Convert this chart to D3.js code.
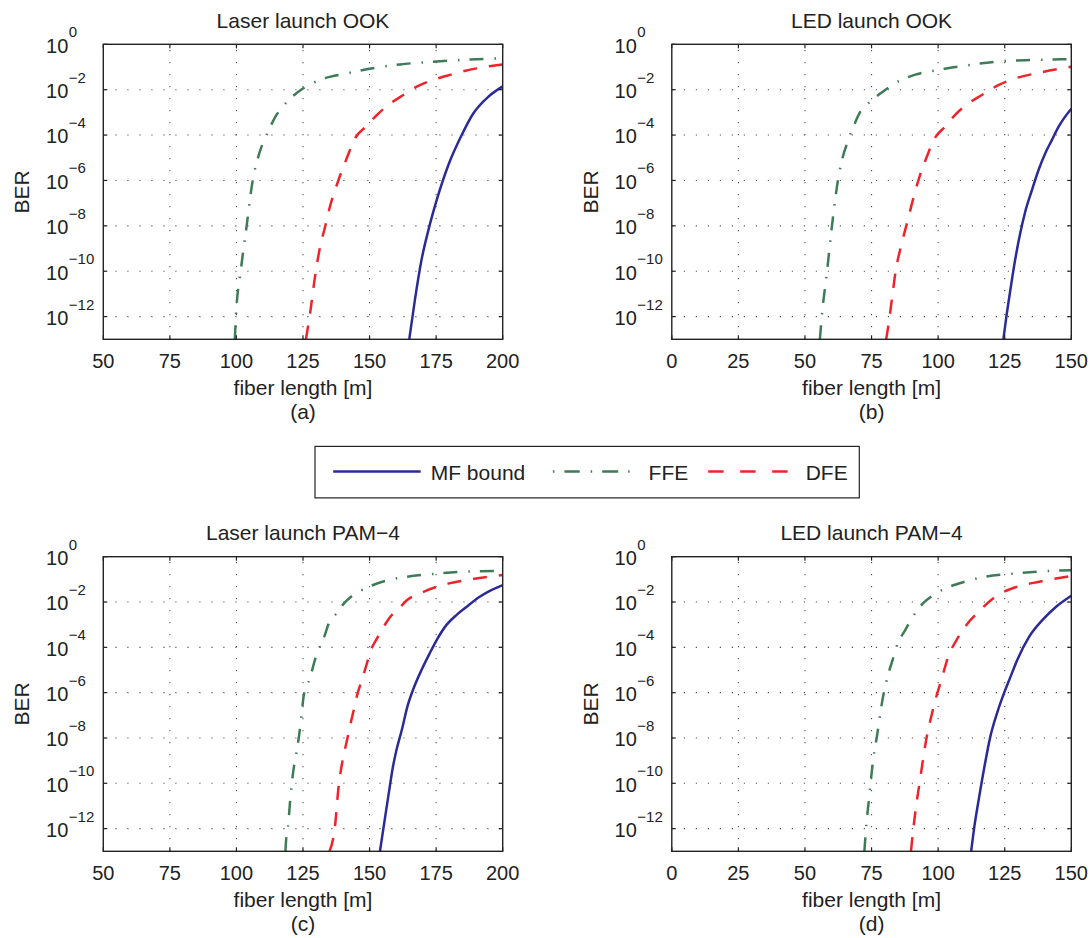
<!DOCTYPE html>
<html>
<head>
<meta charset="utf-8">
<script src="https://cdn.jsdelivr.net/npm/d3@7"></script>
<style>
  html, body { margin: 0; padding: 0; background: #fff; }
  svg { display: block; }
</style>
</head>
<body>
<svg id="chart" width="1090" height="938"></svg>
<script>
// ---------------- data ----------------
const xTicksLaser = [50, 75, 100, 125, 150, 175, 200];
const xTicksLED = [0, 25, 50, 75, 100, 125, 150];
const yTickValues = [1, 1e-2, 1e-4, 1e-6, 1e-8, 1e-10, 1e-12];
const yTickExponents = ["0", "\u22122", "\u22124", "\u22126", "\u22128", "\u221210", "\u221212"];
const panelTitles = ["Laser launch OOK", "LED launch OOK", "Laser launch PAM\u22124", "LED launch PAM\u22124"];
const panelLetters = ["(a)", "(b)", "(c)", "(d)"];
const seriesNames = ["MF bound", "FFE", "DFE"];

// (a) Laser launch OOK
const aMFLen = [164.9, 167.0, 169.5, 172.1, 175.2, 179.6, 184.6, 189.0, 194.6, 200];
const aMFBer = [1e-13, 5.2e-12, 3.1e-10, 6.5e-9, 1.35e-7, 4.8e-6, 1e-4, 9.1e-4, 4.9e-3, 1.4e-2];
const aFFELen = [99.4, 99.8, 101.6, 103.8, 106.1, 108.6, 111.3, 115.1, 120.1, 125.1, 131.4, 141.4, 148.9, 161.4, 173.9, 186.5, 200];
const aFFEBer = [1e-13, 1e-12, 1e-10, 9.3e-9, 9.8e-7, 1.6e-5, 1e-4, 7.9e-4, 3.9e-3, 1.15e-2, 2.7e-2, 5.2e-2, 7.9e-2, 0.13, 0.17, 0.21, 0.24];
const aDFELen = [126.1, 127.6, 129.5, 131.4, 133.3, 135.1, 138.3, 141.4, 144.5, 148.9, 152.7, 157.0, 162.7, 167.7, 173.9, 180.2, 190.2, 200];
const aDFEBer = [1e-13, 1.26e-12, 5.6e-11, 1.17e-9, 9.1e-9, 6.9e-8, 1.02e-6, 9.3e-6, 7.1e-5, 2.5e-4, 7.6e-4, 2.1e-3, 5.8e-3, 1.35e-2, 2.7e-2, 4.5e-2, 8.7e-2, 0.13];

// (b) LED launch OOK
const bMFLen = [124.5, 125.6, 127.1, 128.9, 130.8, 132.7, 135.2, 137.7, 140.2, 142.7, 145.2, 150];
const bMFBer = [1e-13, 9.5e-13, 1.45e-11, 3.1e-10, 4.6e-9, 4.2e-8, 3.7e-7, 2.9e-6, 1.55e-5, 6.0e-5, 2.3e-4, 1.45e-3];
const bFFELen = [55.6, 56.3, 58.2, 60.1, 62.0, 63.9, 65.8, 67.7, 70.8, 74.4, 78.4, 84.8, 91.1, 100.0, 110.1, 122.8, 135.4, 150];
const bFFEBer = [1e-13, 1e-12, 7.9e-11, 9.1e-9, 5.2e-7, 7.9e-6, 4.3e-5, 1.66e-4, 1.07e-3, 2.95e-3, 6.9e-3, 2.24e-2, 4.5e-2, 7.4e-2, 0.115, 0.174, 0.204, 0.224];
const bDFELen = [80.5, 81.6, 82.9, 84.1, 86.0, 88.6, 90.5, 93.0, 95.5, 98.7, 102.5, 106.3, 111.4, 116.4, 122.8, 129.1, 138.0, 150];
const bDFEBer = [1e-13, 6.9e-13, 1.02e-11, 1.1e-10, 1.17e-9, 1.78e-8, 1.35e-7, 1.45e-6, 9.3e-6, 7.1e-5, 2.3e-4, 7.6e-4, 2.5e-3, 5.8e-3, 1.62e-2, 3.2e-2, 5.6e-2, 0.102];

// (c) Laser launch PAM-4
const cMFLen = [153.9, 155.3, 157.2, 158.8, 160.1, 162.2, 164.1, 166.4, 169.5, 172.6, 175.2, 178.9, 182.7, 186.5, 191.5, 195.9, 200];
const cMFBer = [1e-13, 1.23e-12, 3.6e-11, 5.5e-10, 2.95e-9, 2.5e-8, 2.2e-7, 1.41e-6, 1e-5, 5.5e-5, 2.1e-4, 9.8e-4, 2.7e-3, 6.2e-3, 1.74e-2, 3.4e-2, 5.6e-2];
const cFFELen = [118.4, 118.7, 119.3, 120.3, 121.2, 122.5, 123.5, 124.4, 125.3, 126.9, 128.2, 129.4, 131.3, 133.2, 134.5, 137.6, 140.4, 143.9, 148.4, 152.8, 157.2, 161.4, 173.9, 186.5, 200];
const cFFEBer = [1e-13, 3.7e-13, 1.02e-12, 2.57e-11, 2.57e-10, 2.1e-9, 1.23e-8, 8.7e-8, 7.9e-7, 2.5e-6, 7.9e-6, 2.57e-5, 1.07e-4, 3.47e-4, 1.02e-3, 3.16e-3, 8.7e-3, 2.04e-2, 3.98e-2, 6.6e-2, 9.3e-2, 0.117, 0.174, 0.219, 0.234];
const cDFELen = [135.0, 137.0, 138.3, 139.9, 141.4, 142.9, 143.9, 145.5, 147.1, 149.0, 150.3, 152.8, 155.3, 157.8, 161.6, 164.1, 168.9, 175.2, 186.5, 200];
const cDFEBer = [1e-13, 1.23e-12, 6.0e-11, 1.07e-9, 6.9e-9, 4.5e-8, 1.45e-7, 9.3e-7, 3.6e-6, 1.95e-5, 6.5e-5, 2.5e-4, 8.1e-4, 2.24e-3, 6.2e-3, 1.23e-2, 2.4e-2, 4.7e-2, 9.3e-2, 0.155];

// (d) LED launch PAM-4
const dMFLen = [112.4, 113.6, 115.2, 117.4, 119.6, 122.1, 124.7, 127.2, 129.7, 134.2, 139.2, 144.3, 150];
const dMFBer = [1e-13, 1.23e-12, 1.8e-11, 5.5e-10, 1.15e-8, 1.23e-7, 9.3e-7, 5.1e-6, 2.75e-5, 2.95e-4, 1.62e-3, 6.2e-3, 1.9e-2];
const dFFELen = [72.3, 73.1, 74.0, 75.3, 77.2, 79.1, 81.0, 82.9, 84.8, 87.3, 90.5, 94.3, 98.1, 103.8, 110.1, 116.4, 129.1, 141.8, 150];
const dFFEBer = [1e-13, 1.74e-12, 1.8e-11, 5.5e-10, 1.62e-8, 4.8e-7, 5.1e-6, 2.75e-5, 1.51e-4, 4.9e-4, 2.24e-3, 8.7e-3, 2.0e-2, 4.5e-2, 7.9e-2, 0.123, 0.182, 0.234, 0.251];
const dDFELen = [89.8, 90.5, 91.7, 93.0, 94.3, 95.5, 97.4, 99.3, 101.2, 103.8, 106.9, 110.1, 115.2, 121.5, 129.1, 138.0, 150];
const dDFEBer = [1e-13, 6.3e-13, 9.3e-12, 1e-10, 1.07e-9, 8.1e-9, 8.7e-8, 6.6e-7, 3.6e-6, 3.9e-5, 2.1e-4, 8.1e-4, 3.7e-3, 1.74e-2, 4.5e-2, 7.9e-2, 0.141];

// ---------------- styles ----------------
const FONT = "'Liberation Sans', Arial, Helvetica, sans-serif";
const TEXT = "#222";
const styles = {
  "MF bound": { color: "#2b2b98", dash: null },
  "FFE": { color: "#3e7b57", dash: "14,11,1.5,10" },
  "DFE": { color: "#f0232b", dash: "14,12" }
};

const panels = [
  { left: 103.3, right: 502.7, top: 44.3, bottom: 339.3, xDomain: [50, 200], xTicks: xTicksLaser,
    series: [[aMFLen, aMFBer], [aFFELen, aFFEBer], [aDFELen, aDFEBer]] },
  { left: 671.8, right: 1071.3, top: 44.3, bottom: 339.3, xDomain: [0, 150], xTicks: xTicksLED,
    series: [[bMFLen, bMFBer], [bFFELen, bFFEBer], [bDFELen, bDFEBer]] },
  { left: 103.3, right: 502.7, top: 556.7, bottom: 851.3, xDomain: [50, 200], xTicks: xTicksLaser,
    series: [[cMFLen, cMFBer], [cFFELen, cFFEBer], [cDFELen, cDFEBer]] },
  { left: 671.8, right: 1071.3, top: 556.7, bottom: 851.3, xDomain: [0, 150], xTicks: xTicksLED,
    series: [[dMFLen, dMFBer], [dFFELen, dFFEBer], [dDFELen, dDFEBer]] }
];

const svg = d3.select("#chart");
svg.append("rect").attr("width", 1090).attr("height", 938).attr("fill", "#fff");

panels.forEach((p, i) => {
  const x = d3.scaleLinear().domain(p.xDomain).range([p.left, p.right]);
  const y = d3.scaleLog().domain([1e-13, 1]).range([p.bottom, p.top]);
  const g = svg.append("g");

  const clipId = "clip" + i;
  svg.append("clipPath").attr("id", clipId)
    .append("rect").attr("x", p.left).attr("y", p.top)
    .attr("width", p.right - p.left).attr("height", p.bottom - p.top);

  // grid
  const grid = g.append("g").attr("stroke", "#555").attr("stroke-width", 1.1)
    .attr("stroke-dasharray", "1.2,10.8").attr("fill", "none");
  p.xTicks.forEach(t => {
    if (t === p.xDomain[0] || t === p.xDomain[1]) return;
    grid.append("line").attr("x1", x(t)).attr("x2", x(t))
      .attr("y1", p.bottom).attr("y2", p.top);
  });
  yTickValues.forEach(v => {
    if (v === 1) return;
    grid.append("line").attr("x1", p.left).attr("x2", p.right)
      .attr("y1", y(v)).attr("y2", y(v));
  });

  // curves
  const line = d3.line().x(d => x(d[0])).y(d => y(d[1])).curve(d3.curveMonotoneX);
  const curves = g.append("g").attr("clip-path", `url(#${clipId})`);
  [1, 2, 0].forEach(si => {
    const [lens, bers] = p.series[si];
    const pts = lens.map((l, k) => [l, bers[k]]);
    const st = styles[seriesNames[si]];
    const path = curves.append("path").datum(pts).attr("d", line)
      .attr("fill", "none").attr("stroke", st.color).attr("stroke-width", 2.5)
      .attr("stroke-linejoin", "round");
    if (st.dash) path.attr("stroke-dasharray", st.dash);
  });

  // ticks (inward, mirrored)
  const tk = g.append("g").attr("stroke", "#222").attr("stroke-width", 1.2);
  p.xTicks.forEach(t => {
    tk.append("line").attr("x1", x(t)).attr("x2", x(t)).attr("y1", p.bottom).attr("y2", p.bottom - 4);
    tk.append("line").attr("x1", x(t)).attr("x2", x(t)).attr("y1", p.top).attr("y2", p.top + 4);
  });
  yTickValues.forEach(v => {
    tk.append("line").attr("x1", p.left).attr("x2", p.left + 4).attr("y1", y(v)).attr("y2", y(v));
    tk.append("line").attr("x1", p.right).attr("x2", p.right - 4).attr("y1", y(v)).attr("y2", y(v));
  });

  // frame
  g.append("rect").attr("x", p.left).attr("y", p.top)
    .attr("width", p.right - p.left).attr("height", p.bottom - p.top)
    .attr("fill", "none").attr("stroke", "#222").attr("stroke-width", 1.4);

  // x tick labels
  p.xTicks.forEach(t => {
    g.append("text").attr("x", x(t)).attr("y", p.bottom + 28.4)
      .attr("text-anchor", "middle").attr("font-family", FONT).attr("font-size", 20)
      .attr("fill", TEXT).text(t);
  });

  // y tick labels: 10 with superscript
  yTickValues.forEach((v, k) => {
    const yy = y(v);
    g.append("text").attr("x", p.left - 35).attr("y", yy + 8.3)
      .attr("text-anchor", "end").attr("font-family", FONT).attr("font-size", 20)
      .attr("fill", TEXT).text("10");
    g.append("text").attr("x", p.left - 34.5).attr("y", yy - 7)
      .attr("text-anchor", "start").attr("font-family", FONT).attr("font-size", 15)
      .attr("fill", TEXT).text(yTickExponents[k]);
  });

  // title
  g.append("text").attr("x", (p.left + p.right) / 2).attr("y", p.top - 16.7)
    .attr("text-anchor", "middle").attr("font-family", FONT).attr("font-size", 21)
    .attr("fill", TEXT).text(panelTitles[i]);

  // x label and letter
  g.append("text").attr("x", (p.left + p.right) / 2).attr("y", p.bottom + 55.5)
    .attr("text-anchor", "middle").attr("font-family", FONT).attr("font-size", 21)
    .attr("fill", TEXT).text("fiber length [m]");
  g.append("text").attr("x", (p.left + p.right) / 2).attr("y", p.bottom + 79.3)
    .attr("text-anchor", "middle").attr("font-family", FONT).attr("font-size", 21)
    .attr("fill", TEXT).text(panelLetters[i]);

  // y label
  g.append("text")
    .attr("transform", `translate(${p.left - 74},${(p.top + p.bottom) / 2}) rotate(-90)`)
    .attr("text-anchor", "middle").attr("font-family", FONT).attr("font-size", 21)
    .attr("fill", TEXT).text("BER");
});

// ---------------- legend ----------------
const lg = svg.append("g");
lg.append("rect").attr("x", 315).attr("y", 446.4).attr("width", 544.3).attr("height", 51.5)
  .attr("fill", "#fff").attr("stroke", "#222").attr("stroke-width", 1.2);
const legendItems = [
  { name: "MF bound", x1: 333.2, x2: 420.7, tx: 430.7 },
  { name: "FFE", x1: 552.9, x2: 629.6, tx: 648.6 },
  { name: "DFE", x1: 708.2, x2: 787.9, tx: 805.7 }
];
legendItems.forEach(it => {
  const st = styles[it.name];
  const l = lg.append("line").attr("x1", it.x1).attr("x2", it.x2).attr("y1", 471.4).attr("y2", 471.4)
    .attr("stroke", st.color).attr("stroke-width", 2.5);
  if (it.name === "FFE") l.attr("stroke-dasharray", "1.5,10,15.3,11,1.5,10,16,10,1.5");
  else if (st.dash) l.attr("stroke-dasharray", "15.4,16.6");
  lg.append("text").attr("x", it.tx).attr("y", 479.5).attr("font-family", FONT).attr("font-size", 21)
    .attr("fill", TEXT).text(it.name);
});
</script>
</body>
</html>
